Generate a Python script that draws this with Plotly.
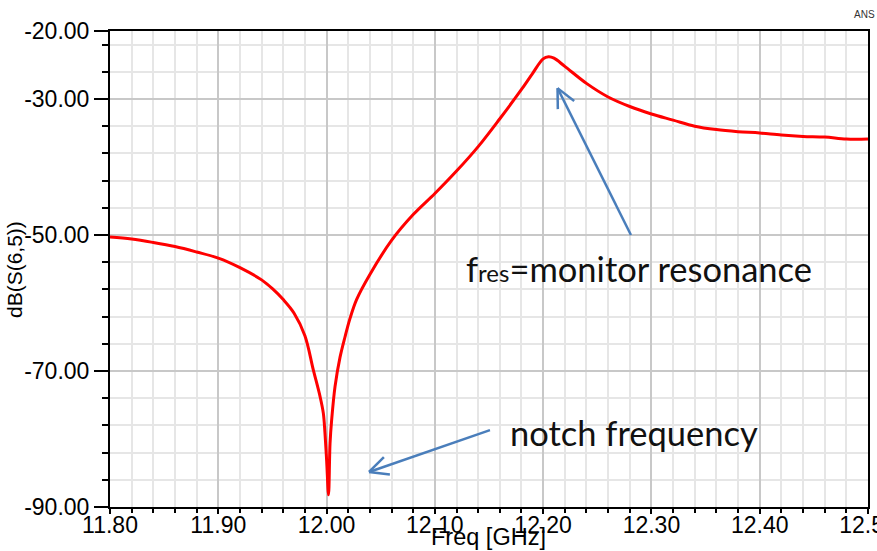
import plotly.graph_objects as go
import math

# ---------------- data ----------------
freq_ghz = [11.80, 11.82, 11.84, 11.86, 11.88, 11.90, 11.92, 11.94, 11.95, 11.96, 11.97,
            11.98, 11.9877, 11.9939, 11.997, 11.9985, 12.0001, 12.0018, 12.0032, 12.0047, 12.0078,
            12.0124, 12.017, 12.0216, 12.0277, 12.04, 12.06, 12.08, 12.10, 12.12, 12.14,
            12.16, 12.18, 12.19, 12.20, 12.205, 12.21, 12.22, 12.24, 12.26,
            12.28, 12.30, 12.32, 12.34, 12.36, 12.38, 12.40, 12.42, 12.44, 12.46,
            12.48, 12.50]
s65_db = [-50.3, -50.6, -51.1, -51.7, -52.5, -53.4, -54.8, -56.6, -57.9, -59.5, -61.5,
          -64.8, -69.8, -73.7, -76.2, -79.1, -83.3, -88.2, -80.6, -77.2, -72.3,
          -68.0, -65.0, -62.3, -59.5, -55.8, -50.8, -47.0, -43.9, -40.6, -37.0,
          -32.9, -28.6, -26.3, -24.1, -23.8, -24.0, -25.2, -27.7, -29.7,
          -31.1, -32.2, -33.1, -34.0, -34.5, -34.8, -35.0, -35.3, -35.5, -35.6,
          -35.9, -35.9]

x_tick_vals = [11.80, 11.90, 12.00, 12.10, 12.20, 12.30, 12.40, 12.50]
x_tick_text = ["11.80", "11.90", "12.00", "12.10", "12.20", "12.30", "12.40", "12.50"]
y_tick_vals = [-90, -70, -50, -30, -20]
y_tick_text = ["-90.00", "-70.00", "-50.00", "-30.00", "-20.00"]

# annotation arrows: (tip_x, tip_y, tail_x, tail_y) in data coords
arrow_res = (12.2133, -28.4, 12.2811, -50.0)
arrow_notch = (12.0392, -84.85, 12.1509, -78.7)

# ---------------- geometry helpers ----------------
W, H = 877, 551
L, R, T, B = 110, 868, 31, 507
XR = (11.8, 12.5)
YR = (-90, -20)


def to_px(x, y):
    return (L + (x - XR[0]) / (XR[1] - XR[0]) * (R - L),
            B - (y - YR[0]) / (YR[1] - YR[0]) * (B - T))


def to_data(px, py):
    return (XR[0] + (px - L) / (R - L) * (XR[1] - XR[0]),
            YR[0] + (B - py) / (B - T) * (YR[1] - YR[0]))


fig = go.Figure()
fig.add_trace(go.Scatter(x=freq_ghz, y=s65_db, mode="lines",
                         line=dict(color="#ff0000", width=3, shape="spline", smoothing=1.0),
                         hoverinfo="skip", showlegend=False))

arrow_color = "#4a7ebb"
shapes = []
for (tx, ty, sx, sy) in (arrow_res, arrow_notch):
    shapes.append(dict(type="line", xref="x", yref="y", x0=sx, y0=sy, x1=tx, y1=ty,
                       line=dict(color=arrow_color, width=2.5)))
    tpx, tpy = to_px(tx, ty)
    spx, spy = to_px(sx, sy)
    ang = math.atan2(spy - tpy, spx - tpx)
    for d in (0.45, -0.45):
        ex = tpx + 21 * math.cos(ang + d)
        ey = tpy + 21 * math.sin(ang + d)
        dx, dy = to_data(ex, ey)
        shapes.append(dict(type="line", xref="x", yref="y", x0=tx, y0=ty, x1=dx, y1=dy,
                           line=dict(color=arrow_color, width=2.5)))

tick_font = dict(family="Liberation Sans, Arial, sans-serif", size=23, color="#000000")

fig.update_layout(
    width=W, height=H,
    margin=dict(l=L, r=W - R, t=T, b=H - B, autoexpand=False),
    paper_bgcolor="white", plot_bgcolor="white",
    shapes=shapes,
    xaxis=dict(range=list(XR), tickmode="array", tickvals=x_tick_vals, ticktext=x_tick_text,
               tickfont=tick_font, ticks="outside", ticklen=5, tickwidth=1.5, tickcolor="black",
               ticklabeloverflow="allow", ticklabelstandoff=-9,
               showline=True, linecolor="black", linewidth=2, mirror=True,
               showgrid=True, gridcolor="#c8c8c8", gridwidth=1.5, zeroline=False,
               minor=dict(tick0=11.8, dtick=0.02, ticks="outside", ticklen=4, tickwidth=1.5,
                          tickcolor="black", showgrid=True, gridcolor="#e6e6e6", gridwidth=1.5),
               automargin=False, fixedrange=True),
    yaxis=dict(range=list(YR), tickmode="array", tickvals=y_tick_vals, ticktext=y_tick_text,
               tickfont=tick_font, ticks="outside", ticklen=14, tickwidth=1.5, tickcolor="black",
               ticklabeloverflow="allow",
               showline=True, linecolor="black", linewidth=2, mirror=True,
               showgrid=True, gridcolor="#c8c8c8", gridwidth=1.5, zeroline=False,
               minor=dict(tick0=-90, dtick=4, ticks="outside", ticklen=6, tickwidth=1.5,
                          tickcolor="black", showgrid=True, gridcolor="#e6e6e6", gridwidth=1.5),
               automargin=False, fixedrange=True),
    annotations=[
        dict(text="dB(S(6,5))", xref="paper", yref="paper", x=(14 - L) / (R - L), y=(B - 270) / (B - T),
             textangle=-90, showarrow=False, xanchor="center", yanchor="middle",
             font=dict(family="Liberation Sans, Arial, sans-serif", size=21, color="black")),
        dict(text="Freq [GHz]", xref="paper", yref="paper", x=(488 - L) / (R - L), y=(B - 537) / (B - T),
             showarrow=False, xanchor="center", yanchor="middle",
             font=dict(family="Liberation Sans, Arial, sans-serif", size=23.5, color="black")),
        dict(text='f<span style="font-size:24px">res</span>=monitor resonance',
             xref="paper", yref="paper", x=(464 - L) / (R - L), y=(B - 268) / (B - T),
             showarrow=False, xanchor="left", yanchor="middle",
             font=dict(family="Lato, sans-serif", size=34.5, color="#111111")),
        dict(text="notch frequency", xref="paper", yref="paper",
             x=(508 - L) / (R - L), y=(B - 432) / (B - T),
             showarrow=False, xanchor="left", yanchor="middle",
             font=dict(family="Lato, sans-serif", size=34.5, color="#111111")),
        dict(text="ANS", xref="paper", yref="paper", x=(864 - L) / (R - L), y=(B - 15) / (B - T),
             showarrow=False, xanchor="center", yanchor="middle",
             font=dict(family="Liberation Sans, Arial, sans-serif", size=10, color="#333333")),
    ],
)

fig.write_html("out.html")
